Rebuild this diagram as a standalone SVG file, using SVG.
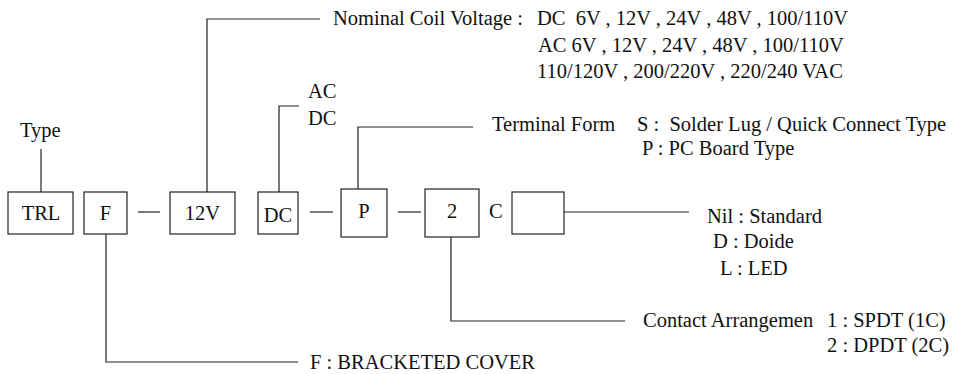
<svg xmlns="http://www.w3.org/2000/svg" width="958" height="374" viewBox="0 0 958 374">
<style>
text{font-family:"Liberation Serif","Times New Roman",serif;font-size:20.5px;fill:#111;white-space:pre}
.box{fill:#fff;stroke:#222;stroke-width:1.2}
.ln{fill:none;stroke:#222;stroke-width:1.2}
.mid{text-anchor:middle}
</style>
<rect width="958" height="374" fill="#fff"/>
<g id="connectors">
<path class="ln" d="M41 149V192"/>
<path class="ln" d="M207 192V19H320"/>
<path class="ln" d="M279 192V106H299"/>
<path class="ln" d="M358 189V127H473"/>
<path class="ln" d="M106 234V362H298"/>
<path class="ln" d="M451 237V321H625"/>
<path class="ln" d="M564 212H689"/>
<path class="ln" d="M138 212H160"/>
<path class="ln" d="M310 212H333"/>
<path class="ln" d="M398 212H421"/>
</g>
<g id="type-label"><text x="20" y="137">Type</text></g>
<g id="node-trl"><rect class="box" x="8" y="192" width="65" height="42"/><text class="mid" x="41" y="220">TRL</text></g>
<g id="node-f"><rect class="box" x="84" y="192" width="43" height="42"/><text class="mid" x="105.5" y="220">F</text></g>
<g id="node-12v"><rect class="box" x="170" y="192" width="65" height="42"/><text class="mid" x="202.5" y="220">12V</text></g>
<g id="node-dc"><rect class="box" x="258" y="192" width="40" height="42"/><text class="mid" x="278" y="222">DC</text></g>
<g id="node-p"><rect class="box" x="341" y="189" width="46" height="48"/><text class="mid" x="364" y="218">P</text></g>
<g id="node-2"><rect class="box" x="425" y="189" width="54" height="48"/><text class="mid" x="452" y="218">2</text></g>
<g id="c-label"><text x="489" y="218">C</text></g>
<g id="node-blank"><rect class="box" x="512" y="192" width="52" height="42"/></g>
<g id="voltage-label">
<text x="333" y="25">Nominal Coil Voltage :</text>
<text x="537" y="25">DC  6V , 12V , 24V , 48V , 100/110V</text>
<text x="538" y="52">AC 6V , 12V , 24V , 48V , 100/110V</text>
<text x="537" y="78">110/120V , 200/220V , 220/240 VAC</text>
</g>
<g id="acdc-label">
<text x="308" y="98">AC</text>
<text x="308" y="125">DC</text>
</g>
<g id="terminal-label">
<text x="492" y="131">Terminal Form</text>
<text x="637" y="131">S :  Solder Lug / Quick Connect Type</text>
<text x="642" y="155">P : PC Board Type</text>
</g>
<g id="option-label">
<text x="707" y="223">Nil : Standard</text>
<text x="713" y="248">D : Doide</text>
<text x="720" y="275">L : LED</text>
</g>
<g id="contact-label">
<text x="643" y="327">Contact Arrangemen</text>
<text x="827" y="327">1 : SPDT (1C)</text>
<text x="827" y="352">2 : DPDT (2C)</text>
</g>
<g id="cover-label"><text x="310" y="369">F : BRACKETED COVER</text></g>
</svg>
